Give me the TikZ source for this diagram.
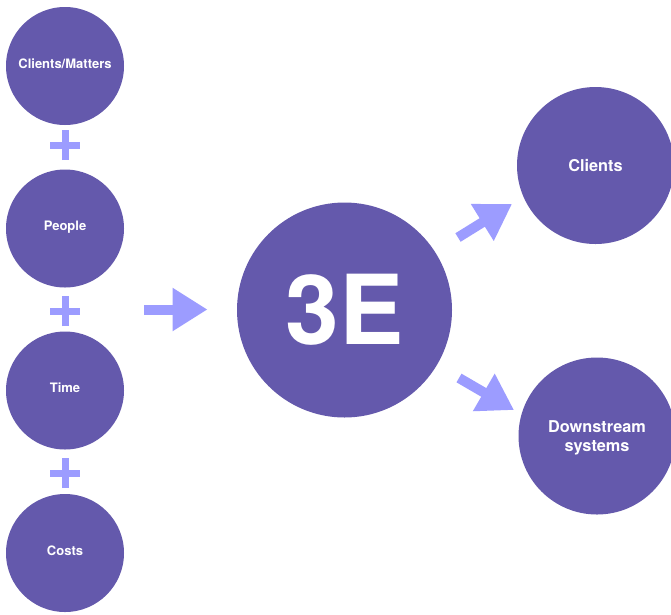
\documentclass[tikz,border=0pt]{standalone}
\usepackage{fontspec}
\setmainfont{TeX Gyre Heros}
\usetikzlibrary{arrows.meta}
\definecolor{disc}{HTML}{6459AC}
\definecolor{accent}{HTML}{9C9CFF}
\tikzset{
  disc/.style={circle,fill=disc,draw=none,inner sep=0pt,text=white,font=\bfseries,align=center},
  small/.style={disc,minimum size=118pt,text height=8pt,text depth=4pt,font=\bfseries\fontsize{13}{15}\selectfont},
  big/.style={disc,minimum size=157pt,font=\bfseries\fontsize{16.3}{19.5}\selectfont},
  flow/.style={draw=accent,line width=10pt,-{Triangle[length=35pt,width=41pt,sep=0pt]}},
  plusbar/.style={draw=accent,line width=7pt}
}
\begin{document}
\begin{tikzpicture}[x=1pt,y=-1pt]
\useasboundingbox (0,0) rectangle (671,614);
\fill[white] (0,0) rectangle (671,614);
\node[small] (cm) at (65,66) {Clients/Matters};
\node[small] (people) at (65,228.5) {People};
\node[small] (time) at (65,390.5) {Time};
\node[small] (costs) at (65,553) {Costs};
\node[disc,minimum size=215pt,font=\bfseries\fontsize{96.5}{96.5}\selectfont] (e) at (344.5,310) {3E};
\node[big,text height=14pt,text depth=3pt] (clients) at (595.5,165.5) {Clients};
\node[big] (down) at (597,436) {\rule{0pt}{16pt}Downstream\\systems};
\foreach \c/\y in {p1/145,p2/311,p3/473}{
  \coordinate (\c) at (65,\y);
  \draw[plusbar] ([xshift=-15pt]\c) -- ([xshift=15pt]\c);
  \draw[plusbar] ([yshift=-15pt]\c) -- ([yshift=15pt]\c);
}
\coordinate (a1) at (144,309.5);
\coordinate (a1e) at (207.5,309.5);
\coordinate (a2) at (458,237.5);
\coordinate (a2e) at (512,204);
\coordinate (a3) at (459,378);
\coordinate (a3e) at (514,410);
\draw[flow] (a1) -- (a1e);
\draw[flow] (a2) -- (a2e);
\draw[flow] (a3) -- (a3e);
\end{tikzpicture}
\end{document}
